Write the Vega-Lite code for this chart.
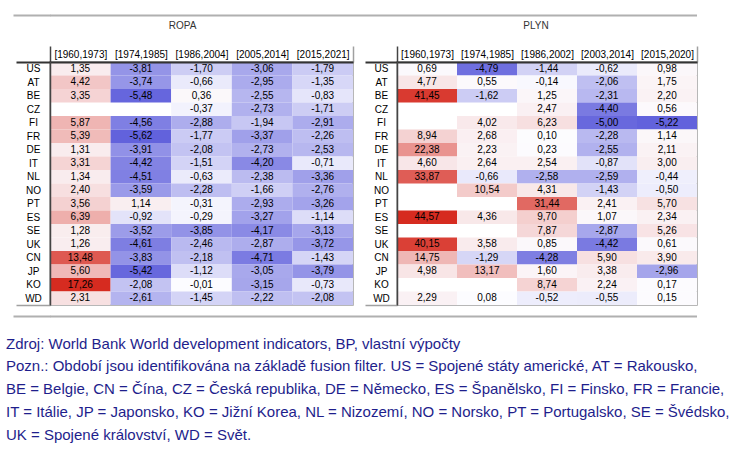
{
  "$schema": "https://vega.github.io/schema/vega-lite/v6.json",
  "padding": {"left": 6, "top": 14, "right": 0, "bottom": 0},
  "background": "white",
  "config": {
    "locale": {"number": {"decimal": ",", "thousands": " ", "grouping": [3], "currency": ["", ""], "minus": "-"}},
    "font": "Liberation Sans",
    "view": {"stroke": null}
  },
  "datasets": {
    "ropa": [
      {"country": "US", "period": "[1960,1973]", "value": 1.35}, {"country": "US", "period": "[1974,1985]", "value": -3.81}, {"country": "US", "period": "[1986,2004]", "value": -1.70}, {"country": "US", "period": "[2005,2014]", "value": -3.06}, {"country": "US", "period": "[2015,2021]", "value": -1.79},
      {"country": "AT", "period": "[1960,1973]", "value": 4.42}, {"country": "AT", "period": "[1974,1985]", "value": -3.74}, {"country": "AT", "period": "[1986,2004]", "value": -0.66}, {"country": "AT", "period": "[2005,2014]", "value": -2.95}, {"country": "AT", "period": "[2015,2021]", "value": -1.35},
      {"country": "BE", "period": "[1960,1973]", "value": 3.35}, {"country": "BE", "period": "[1974,1985]", "value": -5.48}, {"country": "BE", "period": "[1986,2004]", "value": 0.36}, {"country": "BE", "period": "[2005,2014]", "value": -2.55}, {"country": "BE", "period": "[2015,2021]", "value": -0.83},
      {"country": "CZ", "period": "[1986,2004]", "value": -0.37}, {"country": "CZ", "period": "[2005,2014]", "value": -2.73}, {"country": "CZ", "period": "[2015,2021]", "value": -1.71},
      {"country": "FI", "period": "[1960,1973]", "value": 5.87}, {"country": "FI", "period": "[1974,1985]", "value": -4.56}, {"country": "FI", "period": "[1986,2004]", "value": -2.88}, {"country": "FI", "period": "[2005,2014]", "value": -1.94}, {"country": "FI", "period": "[2015,2021]", "value": -2.91},
      {"country": "FR", "period": "[1960,1973]", "value": 5.39}, {"country": "FR", "period": "[1974,1985]", "value": -5.62}, {"country": "FR", "period": "[1986,2004]", "value": -1.77}, {"country": "FR", "period": "[2005,2014]", "value": -3.37}, {"country": "FR", "period": "[2015,2021]", "value": -2.26},
      {"country": "DE", "period": "[1960,1973]", "value": 1.31}, {"country": "DE", "period": "[1974,1985]", "value": -3.91}, {"country": "DE", "period": "[1986,2004]", "value": -2.08}, {"country": "DE", "period": "[2005,2014]", "value": -2.73}, {"country": "DE", "period": "[2015,2021]", "value": -2.53},
      {"country": "IT", "period": "[1960,1973]", "value": 3.31}, {"country": "IT", "period": "[1974,1985]", "value": -4.42}, {"country": "IT", "period": "[1986,2004]", "value": -1.51}, {"country": "IT", "period": "[2005,2014]", "value": -4.20}, {"country": "IT", "period": "[2015,2021]", "value": -0.71},
      {"country": "NL", "period": "[1960,1973]", "value": 1.34}, {"country": "NL", "period": "[1974,1985]", "value": -4.51}, {"country": "NL", "period": "[1986,2004]", "value": -0.63}, {"country": "NL", "period": "[2005,2014]", "value": -2.38}, {"country": "NL", "period": "[2015,2021]", "value": -3.36},
      {"country": "NO", "period": "[1960,1973]", "value": 2.40}, {"country": "NO", "period": "[1974,1985]", "value": -3.59}, {"country": "NO", "period": "[1986,2004]", "value": -2.28}, {"country": "NO", "period": "[2005,2014]", "value": -1.66}, {"country": "NO", "period": "[2015,2021]", "value": -2.76},
      {"country": "PT", "period": "[1960,1973]", "value": 3.56}, {"country": "PT", "period": "[1974,1985]", "value": 1.14}, {"country": "PT", "period": "[1986,2004]", "value": -0.31}, {"country": "PT", "period": "[2005,2014]", "value": -2.93}, {"country": "PT", "period": "[2015,2021]", "value": -3.26},
      {"country": "ES", "period": "[1960,1973]", "value": 6.39}, {"country": "ES", "period": "[1974,1985]", "value": -0.92}, {"country": "ES", "period": "[1986,2004]", "value": -0.29}, {"country": "ES", "period": "[2005,2014]", "value": -3.27}, {"country": "ES", "period": "[2015,2021]", "value": -1.14},
      {"country": "SE", "period": "[1960,1973]", "value": 1.28}, {"country": "SE", "period": "[1974,1985]", "value": -3.52}, {"country": "SE", "period": "[1986,2004]", "value": -3.85}, {"country": "SE", "period": "[2005,2014]", "value": -4.17}, {"country": "SE", "period": "[2015,2021]", "value": -3.13},
      {"country": "UK", "period": "[1960,1973]", "value": 1.26}, {"country": "UK", "period": "[1974,1985]", "value": -4.61}, {"country": "UK", "period": "[1986,2004]", "value": -2.46}, {"country": "UK", "period": "[2005,2014]", "value": -2.87}, {"country": "UK", "period": "[2015,2021]", "value": -3.72},
      {"country": "CN", "period": "[1960,1973]", "value": 13.48}, {"country": "CN", "period": "[1974,1985]", "value": -3.83}, {"country": "CN", "period": "[1986,2004]", "value": -2.18}, {"country": "CN", "period": "[2005,2014]", "value": -4.71}, {"country": "CN", "period": "[2015,2021]", "value": -1.43},
      {"country": "JP", "period": "[1960,1973]", "value": 5.60}, {"country": "JP", "period": "[1974,1985]", "value": -5.42}, {"country": "JP", "period": "[1986,2004]", "value": -1.12}, {"country": "JP", "period": "[2005,2014]", "value": -3.05}, {"country": "JP", "period": "[2015,2021]", "value": -3.79},
      {"country": "KO", "period": "[1960,1973]", "value": 17.26}, {"country": "KO", "period": "[1974,1985]", "value": -2.08}, {"country": "KO", "period": "[1986,2004]", "value": -0.01}, {"country": "KO", "period": "[2005,2014]", "value": -3.15}, {"country": "KO", "period": "[2015,2021]", "value": -0.73},
      {"country": "WD", "period": "[1960,1973]", "value": 2.31}, {"country": "WD", "period": "[1974,1985]", "value": -2.61}, {"country": "WD", "period": "[1986,2004]", "value": -1.45}, {"country": "WD", "period": "[2005,2014]", "value": -2.22}, {"country": "WD", "period": "[2015,2021]", "value": -2.08}
    ],
    "plyn": [
      {"country": "US", "period": "[1960,1973]", "value": 0.69}, {"country": "US", "period": "[1974,1985]", "value": -4.79}, {"country": "US", "period": "[1986,2002]", "value": -1.44}, {"country": "US", "period": "[2003,2014]", "value": -0.62}, {"country": "US", "period": "[2015,2020]", "value": 0.98},
      {"country": "AT", "period": "[1960,1973]", "value": 4.77}, {"country": "AT", "period": "[1974,1985]", "value": 0.55}, {"country": "AT", "period": "[1986,2002]", "value": -0.14}, {"country": "AT", "period": "[2003,2014]", "value": -2.06}, {"country": "AT", "period": "[2015,2020]", "value": 1.75},
      {"country": "BE", "period": "[1960,1973]", "value": 41.45}, {"country": "BE", "period": "[1974,1985]", "value": -1.62}, {"country": "BE", "period": "[1986,2002]", "value": 1.25}, {"country": "BE", "period": "[2003,2014]", "value": -2.31}, {"country": "BE", "period": "[2015,2020]", "value": 2.20},
      {"country": "CZ", "period": "[1986,2002]", "value": 2.47}, {"country": "CZ", "period": "[2003,2014]", "value": -4.40}, {"country": "CZ", "period": "[2015,2020]", "value": 0.56},
      {"country": "FI", "period": "[1974,1985]", "value": 4.02}, {"country": "FI", "period": "[1986,2002]", "value": 6.23}, {"country": "FI", "period": "[2003,2014]", "value": -5.00}, {"country": "FI", "period": "[2015,2020]", "value": -5.22},
      {"country": "FR", "period": "[1960,1973]", "value": 8.94}, {"country": "FR", "period": "[1974,1985]", "value": 2.68}, {"country": "FR", "period": "[1986,2002]", "value": 0.10}, {"country": "FR", "period": "[2003,2014]", "value": -2.28}, {"country": "FR", "period": "[2015,2020]", "value": 1.14},
      {"country": "DE", "period": "[1960,1973]", "value": 22.38}, {"country": "DE", "period": "[1974,1985]", "value": 2.23}, {"country": "DE", "period": "[1986,2002]", "value": 0.23}, {"country": "DE", "period": "[2003,2014]", "value": -2.55}, {"country": "DE", "period": "[2015,2020]", "value": 2.11},
      {"country": "IT", "period": "[1960,1973]", "value": 4.60}, {"country": "IT", "period": "[1974,1985]", "value": 2.64}, {"country": "IT", "period": "[1986,2002]", "value": 2.54}, {"country": "IT", "period": "[2003,2014]", "value": -0.87}, {"country": "IT", "period": "[2015,2020]", "value": 3.00},
      {"country": "NL", "period": "[1960,1973]", "value": 33.87}, {"country": "NL", "period": "[1974,1985]", "value": -0.66}, {"country": "NL", "period": "[1986,2002]", "value": -2.58}, {"country": "NL", "period": "[2003,2014]", "value": -2.59}, {"country": "NL", "period": "[2015,2020]", "value": -0.44},
      {"country": "NO", "period": "[1974,1985]", "value": 10.54}, {"country": "NO", "period": "[1986,2002]", "value": 4.31}, {"country": "NO", "period": "[2003,2014]", "value": -1.43}, {"country": "NO", "period": "[2015,2020]", "value": -0.50},
      {"country": "PT", "period": "[1986,2002]", "value": 31.44}, {"country": "PT", "period": "[2003,2014]", "value": 2.41}, {"country": "PT", "period": "[2015,2020]", "value": 5.70},
      {"country": "ES", "period": "[1960,1973]", "value": 44.57}, {"country": "ES", "period": "[1974,1985]", "value": 4.36}, {"country": "ES", "period": "[1986,2002]", "value": 9.70}, {"country": "ES", "period": "[2003,2014]", "value": 1.07}, {"country": "ES", "period": "[2015,2020]", "value": 2.34},
      {"country": "SE", "period": "[1986,2002]", "value": 7.87}, {"country": "SE", "period": "[2003,2014]", "value": -2.87}, {"country": "SE", "period": "[2015,2020]", "value": 5.26},
      {"country": "UK", "period": "[1960,1973]", "value": 40.15}, {"country": "UK", "period": "[1974,1985]", "value": 3.58}, {"country": "UK", "period": "[1986,2002]", "value": 0.85}, {"country": "UK", "period": "[2003,2014]", "value": -4.42}, {"country": "UK", "period": "[2015,2020]", "value": 0.61},
      {"country": "CN", "period": "[1960,1973]", "value": 14.75}, {"country": "CN", "period": "[1974,1985]", "value": -1.29}, {"country": "CN", "period": "[1986,2002]", "value": -4.28}, {"country": "CN", "period": "[2003,2014]", "value": 5.90}, {"country": "CN", "period": "[2015,2020]", "value": 3.90},
      {"country": "JP", "period": "[1960,1973]", "value": 4.98}, {"country": "JP", "period": "[1974,1985]", "value": 13.17}, {"country": "JP", "period": "[1986,2002]", "value": 1.60}, {"country": "JP", "period": "[2003,2014]", "value": 3.38}, {"country": "JP", "period": "[2015,2020]", "value": -2.96},
      {"country": "KO", "period": "[1986,2002]", "value": 8.74}, {"country": "KO", "period": "[2003,2014]", "value": 2.24}, {"country": "KO", "period": "[2015,2020]", "value": 0.17},
      {"country": "WD", "period": "[1960,1973]", "value": 2.29}, {"country": "WD", "period": "[1974,1985]", "value": 0.08}, {"country": "WD", "period": "[1986,2002]", "value": -0.52}, {"country": "WD", "period": "[2003,2014]", "value": -0.55}, {"country": "WD", "period": "[2015,2020]", "value": 0.15}
    ]
  },
  "vconcat": [
    {
      "spacing": 3,
      "vconcat": [
        {
          "width": 647,
          "height": 1,
          "data": {"values": [{"k": "line"}]},
          "mark": {"type": "rule", "color": "#b0b0b0", "strokeWidth": 2},
          "encoding": {
            "y": {"field": "k", "type": "nominal", "title": null,
              "scale": {"paddingInner": 0, "paddingOuter": 0},
              "axis": {"labels": false, "domain": false, "ticks": true, "tickSize": 37, "tickColor": "#b0b0b0", "tickWidth": 2, "minExtent": 37, "maxExtent": 37}}
          }
        },
        {
          "spacing": 8,
          "resolve": {"scale": {"color": "independent", "x": "independent", "y": "independent"}},
          "hconcat": [
            {
              "width": 303,
              "height": 243,
              "title": {"text": "ROPA", "fontSize": 10, "fontWeight": "normal", "color": "#333333", "offset": 14, "dx": -19, "frame": "group"},
              "data": {"name": "ropa"},
              "view": {"stroke": "#a0a0a0", "strokeWidth": 1.5},
              "encoding": {
                "x": {
                  "field": "period", "type": "nominal",
                  "scale": {"domain": ["[1960,1973]", "[1974,1985]", "[1986,2004]", "[2005,2014]", "[2015,2021]"], "paddingInner": 0, "paddingOuter": 0},
                  "axis": {
                    "orient": "top", "title": null, "labelAngle": 0, "labelFontSize": 10, "labelColor": "black", "labelOverlap": false,
                    "domainColor": "#333333", "domainWidth": 2,
                    "tickBand": "extent", "tickSize": 16, "tickWidth": 1.5,
                    "tickColor": {"condition": [{"test": "datum.extra", "value": "#444444"}, {"test": "datum.value === '[2015,2021]'", "value": "#a0a0a0"}], "value": "transparent"},
                    "labelPadding": -13, "zindex": 1
                  }
                },
                "y": {
                  "field": "country", "type": "nominal",
                  "scale": {"domain": ["US", "AT", "BE", "CZ", "FI", "FR", "DE", "IT", "NL", "NO", "PT", "ES", "SE", "UK", "CN", "JP", "KO", "WD"], "paddingInner": 0, "paddingOuter": 0},
                  "axis": {
                    "title": null, "labelAlign": "center", "labelFontSize": 10, "labelColor": "black", "labelOverlap": false,
                    "domainColor": "#444444", "domainWidth": 1.5,
                    "tickBand": "extent", "tickSize": 34,
                    "tickColor": {"condition": [{"test": "datum.extra", "value": "#333333"}, {"test": "datum.value === 'WD'", "value": "#a0a0a0"}], "value": "transparent"},
                    "tickWidth": {"condition": {"test": "datum.extra", "value": 2}, "value": 1.5},
                    "labelPadding": -17, "zindex": 1, "minExtent": 36, "maxExtent": 36
                  }
                }
              },
              "layer": [
                {
                  "mark": {"type": "rect"},
                  "encoding": {
                    "color": {"field": "value", "type": "quantitative", "legend": null,
                      "scale": {"domain": [-5.62, 0, 17.26], "range": ["#6262dc", "#fcfcff", "#d62b20"], "interpolate": "rgb"}}
                  }
                },
                {
                  "mark": {"type": "text", "fontSize": 10, "color": "black"},
                  "encoding": {"text": {"field": "value", "type": "quantitative", "format": ".2f"}}
                }
              ]
            },
            {
              "width": 300,
              "height": 243,
              "title": {"text": "PLYN", "fontSize": 10, "fontWeight": "normal", "color": "#333333", "offset": 14, "dx": -11, "frame": "group"},
              "data": {"name": "plyn"},
              "view": {"stroke": "#a0a0a0", "strokeWidth": 1.5},
              "encoding": {
                "x": {
                  "field": "period", "type": "nominal",
                  "scale": {"domain": ["[1960,1973]", "[1974,1985]", "[1986,2002]", "[2003,2014]", "[2015,2020]"], "paddingInner": 0, "paddingOuter": 0},
                  "axis": {
                    "orient": "top", "title": null, "labelAngle": 0, "labelFontSize": 10, "labelColor": "black", "labelOverlap": false,
                    "domainColor": "#333333", "domainWidth": 2,
                    "tickBand": "extent", "tickSize": 16, "tickWidth": 1.5,
                    "tickColor": {"condition": [{"test": "datum.extra", "value": "#444444"}, {"test": "datum.value === '[2015,2020]'", "value": "#a0a0a0"}], "value": "transparent"},
                    "labelPadding": -13, "zindex": 1
                  }
                },
                "y": {
                  "field": "country", "type": "nominal",
                  "scale": {"domain": ["US", "AT", "BE", "CZ", "FI", "FR", "DE", "IT", "NL", "NO", "PT", "ES", "SE", "UK", "CN", "JP", "KO", "WD"], "paddingInner": 0, "paddingOuter": 0},
                  "axis": {
                    "title": null, "labelAlign": "center", "labelFontSize": 10, "labelColor": "black", "labelOverlap": false,
                    "domainColor": "#444444", "domainWidth": 1.5,
                    "tickBand": "extent", "tickSize": 32,
                    "tickColor": {"condition": [{"test": "datum.extra", "value": "#333333"}, {"test": "datum.value === 'WD'", "value": "#a0a0a0"}], "value": "transparent"},
                    "tickWidth": {"condition": {"test": "datum.extra", "value": 2}, "value": 1.5},
                    "labelPadding": -16, "zindex": 1, "minExtent": 33, "maxExtent": 33
                  }
                }
              },
              "layer": [
                {
                  "mark": {"type": "rect"},
                  "encoding": {
                    "color": {"field": "value", "type": "quantitative", "legend": null,
                      "scale": {"domain": [-5.22, 0, 44.57], "range": ["#6262dc", "#fcfcff", "#d62b20"], "interpolate": "rgb"}}
                  }
                },
                {
                  "mark": {"type": "text", "fontSize": 10, "color": "black"},
                  "encoding": {"text": {"field": "value", "type": "quantitative", "format": ".2f"}}
                }
              ]
            }
          ]
        }
      ]
    },
    {
      "width": 647,
      "height": 1,
      "data": {"values": [{"k": "line"}]},
      "mark": {"type": "rule", "color": "#b0b0b0", "strokeWidth": 2},
      "encoding": {
        "y": {"field": "k", "type": "nominal", "title": null,
          "scale": {"paddingInner": 0, "paddingOuter": 0},
          "axis": {"labels": false, "domain": false, "ticks": true, "tickSize": 37, "tickColor": "#b0b0b0", "tickWidth": 2, "minExtent": 37, "maxExtent": 37}}
      },
      "title": {
        "text": [
          "Zdroj: World Bank World development indicators, BP, vlastní výpočty",
          "Pozn.: Období jsou identifikována na základě fusion filter. US = Spojené státy americké, AT = Rakousko,",
          "BE = Belgie, CN = Čína, CZ = Česká republika, DE = Německo, ES = Španělsko, FI = Finsko, FR = Francie,",
          "IT = Itálie, JP = Japonsko, KO = Jižní Korea,  NL = Nizozemí, NO = Norsko, PT = Portugalsko, SE = Švédsko,",
          "UK = Spojené království, WD = Svět."
        ],
        "orient": "bottom", "anchor": "start", "frame": "group",
        "fontSize": 15, "fontWeight": "normal", "color": "#1e1e8c", "font": "Liberation Sans",
        "lineHeight": 22.8, "offset": 19, "dx": -44
      }
    }
  ],
  "spacing": 8
}
